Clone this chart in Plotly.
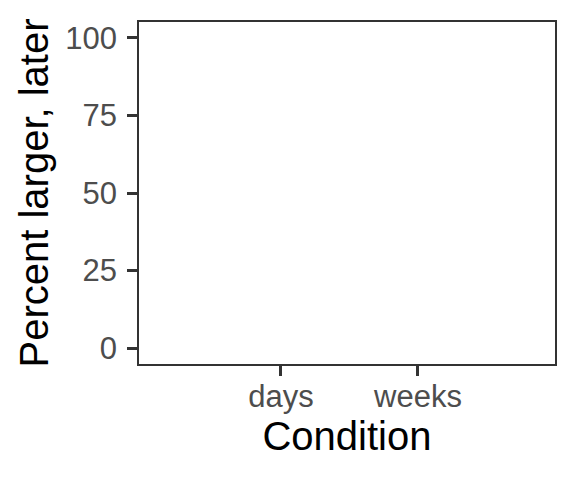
import plotly.graph_objects as go

# conditions on the x axis and the percent values (nothing visible in the panel)
conditions = ["days", "weeks"]
percent_larger_later = [None, None]
y_ticks = [0, 25, 50, 75, 100]

fig = go.Figure()
fig.add_trace(go.Bar(x=conditions, y=percent_larger_later,
                     marker_color="#56B4E9", showlegend=False))

# page body has an 8px margin, so the margins are shifted to compensate
fig.update_layout(
    width=576, height=480,
    margin=dict(l=131, r=29, t=12, b=124),
    plot_bgcolor="white", paper_bgcolor="white",
    font=dict(family="Liberation Sans, Arial", color="black"),
)
fig.update_xaxes(
    type="category", categoryorder="array", categoryarray=conditions,
    range=[-1.036, 2.0],
    title=dict(text="Condition", font=dict(size=40, color="black"), standoff=4),
    tickfont=dict(size=31, color="#4d4d4d"), ticklabelstandoff=-6,
    ticks="outside", ticklen=10, tickwidth=2.5, tickcolor="#333333",
    showgrid=False, zeroline=False,
    showline=True, linecolor="#333333", linewidth=1.5, mirror=True,
)
fig.update_yaxes(
    range=[-5.1, 105.1], tickvals=y_ticks,
    title=dict(text="Percent larger, later", font=dict(size=40, color="black"), standoff=4),
    tickfont=dict(size=31, color="#4d4d4d"), ticklabelstandoff=4,
    ticks="outside", ticklen=10, tickwidth=2.5, tickcolor="#333333",
    showgrid=False, zeroline=False,
    showline=True, linecolor="#333333", linewidth=1.5, mirror=True,
)

fig.write_html("out.html")
